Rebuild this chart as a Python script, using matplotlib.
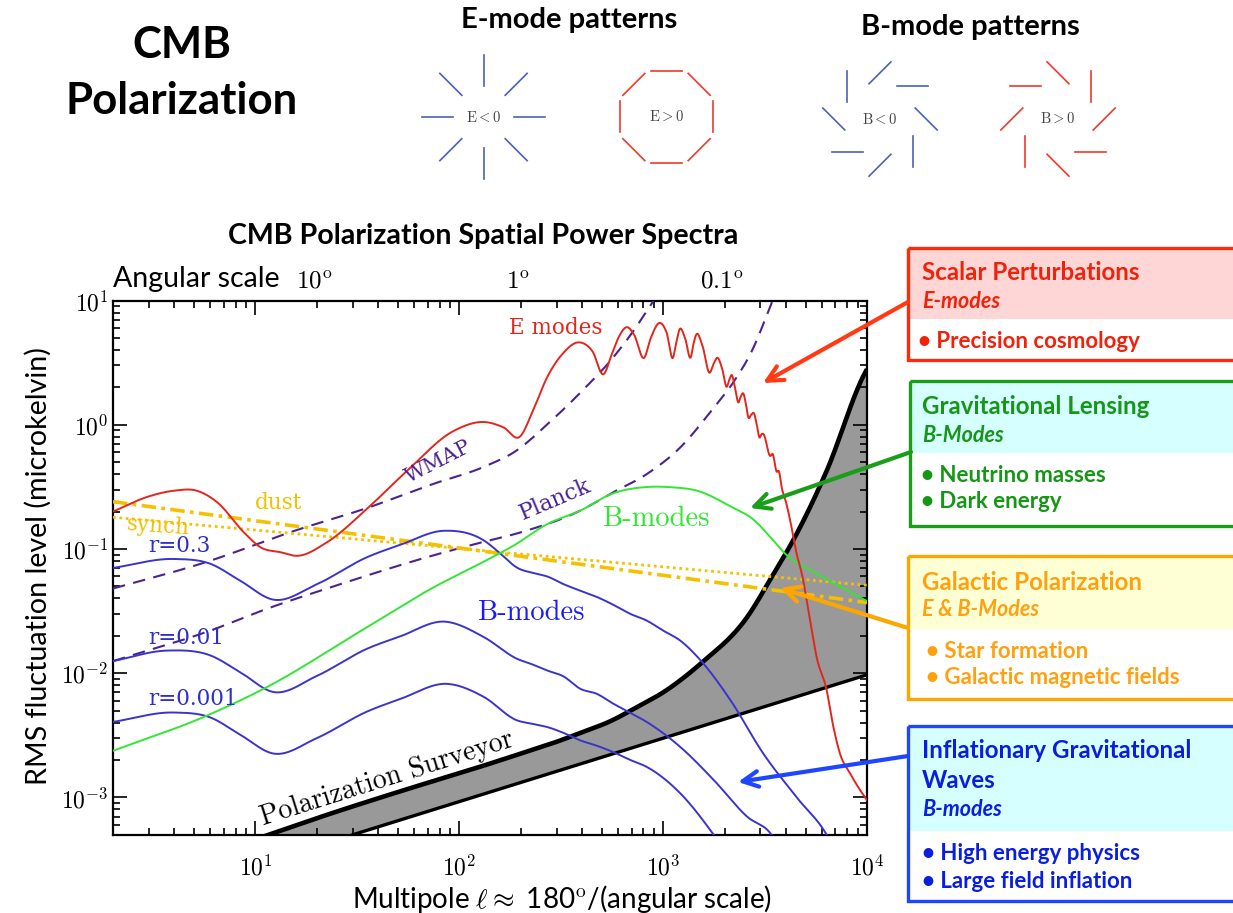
import numpy as np
import matplotlib
matplotlib.use('Agg')
import matplotlib.pyplot as plt
from matplotlib.patches import Rectangle
from matplotlib.ticker import LogLocator, NullFormatter

plt.rcParams['mathtext.fontset'] = 'cm'
plt.rcParams['font.family'] = ['Lato', 'DejaVu Sans']

# ---------------- data ----------------
ell_E = [2, 3, 3.97, 5.16, 6.5, 8.77, 10.6, 13.3, 16, 22.4, 35.2, 55.4, 93.7, 134, 165, 198,
         230, 269, 320, 389, 450, 510, 560, 610, 663, 720, 807, 870, 967, 1040, 1117, 1160,
         1203, 1280, 1367, 1410, 1452, 1560, 1688, 1770, 1847, 1950, 2051, 2110, 2172, 2250,
         2339, 2400, 2476, 2550, 2620, 2700, 2793, 2880, 2966, 3040, 3105, 3350, 3450, 3600,
         3700, 3820, 4000, 4200, 4520, 4790, 5260, 5660, 6340, 6840, 7370, 8260, 9780, 10000]
E_modes = [0.20, 0.265, 0.294, 0.294, 0.237, 0.136, 0.103, 0.094, 0.088, 0.113, 0.21, 0.425,
           0.89, 1.05, 0.95, 0.80, 1.3, 2.39, 3.7, 4.6, 3.9, 2.55, 3.7, 5.2, 6.1, 5.3, 3.46,
           5.0, 6.6, 5.5, 3.46, 4.6, 5.85, 5.0, 3.5, 4.5, 5.3, 4.3, 2.62, 3.1, 3.46, 2.8, 2.02,
           2.3, 2.51, 2.0, 1.51, 1.68, 1.78, 1.45, 1.14, 1.2, 1.23, 1.0, 0.79, 0.84, 0.84, 0.56,
           0.58, 0.42, 0.42, 0.31, 0.24, 0.169, 0.091, 0.063, 0.0265, 0.0135, 0.0073, 0.0037,
           0.00225, 0.00156, 0.001, 0.00095]

ell_wmap = [2, 5.4, 16.6, 33.9, 75, 132, 191, 269, 391, 567, 713, 830, 920]
wmap = [0.048, 0.076, 0.145, 0.209, 0.335, 0.458, 0.62, 1.0, 1.8, 3.46, 5.66, 8.2, 10.6]

ell_planck = [2, 6, 11.4, 24.2, 75, 126, 200, 391, 567, 830, 1212, 1770, 2232, 2770, 3234, 3600]
planck = [0.0125, 0.022, 0.033, 0.050, 0.089, 0.112, 0.136, 0.203, 0.285, 0.40, 0.655, 1.37,
          2.25, 4.16, 7.7, 12.0]

ell_lens = [2, 5.58, 11, 35.2, 75, 126, 184, 269, 391, 567, 830, 1120, 1460, 2140, 2800, 3350,
            4010, 5420, 10000]
lens_B = [0.00237, 0.00444, 0.0075, 0.0234, 0.0492, 0.076, 0.106, 0.158, 0.203, 0.28, 0.315,
          0.313, 0.295, 0.22, 0.17, 0.125, 0.09, 0.066, 0.038]

ell_r03 = [2, 3.97, 6, 8.4, 12.3, 20, 35.2, 51.4, 84, 132, 160, 191, 230, 270, 325, 380, 474,
           560, 690, 830, 1000, 1212, 1525, 2140, 3100, 4520, 6340, 7000]
B_r03 = [0.0703, 0.083, 0.076, 0.0556, 0.039, 0.052, 0.0857, 0.108, 0.14, 0.117, 0.091, 0.071,
         0.064, 0.060, 0.052, 0.047, 0.041, 0.036, 0.030, 0.0265, 0.022, 0.0183, 0.0127,
         0.00605, 0.00225, 0.001, 0.0005, 0.00037]

ell_r001 = [2, 3.7, 6, 8.4, 12.3, 20, 35.2, 51.4, 84, 132, 191, 230, 270, 325, 391, 474, 567,
            690, 830, 1212, 1770, 2580, 3400, 3700]
B_r001 = [0.0125, 0.0152, 0.0139, 0.0102, 0.00704, 0.0095, 0.0157, 0.0198, 0.026, 0.0195,
          0.0131, 0.0117, 0.0105, 0.0094, 0.0075, 0.0068, 0.0057, 0.0048, 0.00405, 0.00255,
          0.00138, 0.0007, 0.0005, 0.0004]

ell_r0001 = [2, 3.97, 6, 8.4, 12.3, 20, 35.2, 51.4, 87, 132, 191, 230, 269, 325, 391, 474, 567,
             690, 830, 1212, 1770, 1950]
B_r0001 = [0.00405, 0.00482, 0.0044, 0.0032, 0.00225, 0.003, 0.0049, 0.0062, 0.0082, 0.00643,
           0.00418, 0.0039, 0.00369, 0.0033, 0.00288, 0.0026, 0.00232, 0.002, 0.00176, 0.00108,
           0.0005, 0.0004]

ell_dust = [2, 10000]
dust = [0.24, 0.037]
ell_synch = [2, 10000]
synch = [0.18, 0.051]

ell_surv = [10, 20, 51.4, 126, 200, 300, 391, 550, 740, 1000, 1525, 2580, 3480, 4340, 6340,
            9780, 10000]
surv_upper = [4.6e-4, 6.8e-4, 0.00112, 0.00176, 0.00225, 0.0028, 0.0033, 0.0041, 0.0053,
              0.0070, 0.0119, 0.0282, 0.063, 0.117, 0.425, 2.62, 2.8]
ell_surv_low = [30, 10000]
surv_lower = [5e-4, 0.0097]

xtick_vals = [10, 100, 1000, 10000]
xtick_labels = [r'$10^1$', r'$10^2$', r'$10^3$', r'$10^4$']
ytick_vals = [1e-3, 1e-2, 1e-1, 1, 10]
ytick_labels = [r'$10^{-3}$', r'$10^{-2}$', r'$10^{-1}$', r'$10^0$', r'$10^1$']
angle_ell = [18, 180, 1800]
angle_labels = [r'$10^{\rm o}$', r'$1^{\rm o}$', r'$0.1^{\rm o}$']

pattern_angles = [0, 45, 90, 135, 180, 225, 270, 315]


def smooth(xs, ys, n=1500):
    lx = np.log10(np.asarray(xs, float))
    ly = np.log10(np.asarray(ys, float))
    if len(lx) < 3:
        xx = np.linspace(lx[0], lx[-1], n)
        return 10 ** xx, 10 ** np.interp(xx, lx, ly)
    m = np.gradient(ly, lx)
    xx = np.linspace(lx[0], lx[-1], n)
    idx = np.clip(np.searchsorted(lx, xx, side='right') - 1, 0, len(lx) - 2)
    h = lx[idx + 1] - lx[idx]
    t = (xx - lx[idx]) / h
    h00 = 2 * t**3 - 3 * t**2 + 1
    h10 = t**3 - 2 * t**2 + t
    h01 = -2 * t**3 + 3 * t**2
    h11 = t**3 - t**2
    yy = h00 * ly[idx] + h10 * h * m[idx] + h01 * ly[idx + 1] + h11 * h * m[idx + 1]
    return 10 ** xx, 10 ** yy


W, H = 1233, 913
fig = plt.figure(figsize=(W / 100, H / 100), dpi=100)

# ---------------- main plot ----------------
ax = fig.add_axes([113 / W, 1 - 835 / H, (867 - 113) / W, (835 - 300.5) / H])
ax.set_xscale('log')
ax.set_yscale('log')
ax.set_xlim(2, 1e4)
ax.set_ylim(10 ** -3.303, 10)

# surveyor band
gx, gu = smooth(ell_surv, surv_upper, 800)
gl = np.where(gx >= ell_surv_low[0],
              10 ** np.interp(np.log10(gx), np.log10(ell_surv_low), np.log10(surv_lower)), 1e-5)
ax.fill_between(gx, gl, gu, where=gu > gl, color='#999999', lw=0, zorder=1)
ax.plot(gx, gu, color='black', lw=3.3, zorder=2, solid_capstyle='butt')
ax.plot(ell_surv_low, surv_lower, color='black', lw=2.4, zorder=2)

purple = '#4b2391'
x, y = smooth(ell_wmap, wmap)
ax.plot(x, y, color=purple, lw=1.5, dashes=(6, 4), zorder=3)
x, y = smooth(ell_planck, planck)
ax.plot(x, y, color=purple, lw=1.5, dashes=(6, 4), zorder=3)

gold = '#f5c000'
ax.plot(ell_dust, dust, color=gold, lw=2.6, dashes=(4, 1.5, 1, 1.5), zorder=3)
ax.plot(ell_synch, synch, color=gold, lw=2.0, dashes=(1, 1.3), zorder=3)

blue_line = '#3b34cc'
for e, b in [(ell_r03, B_r03), (ell_r001, B_r001), (ell_r0001, B_r0001)]:
    x, y = smooth(e, b)
    ax.plot(x, y, color=blue_line, lw=1.4, zorder=4)

x, y = smooth(ell_lens, lens_B)
ax.plot(x, y, color='#33e633', lw=1.4, zorder=4)

x, y = smooth(ell_E, E_modes, 4000)
ax.plot(x, y, color='#e3261c', lw=1.4, zorder=5)

ax.set_xticks(xtick_vals)
ax.set_xticklabels(xtick_labels, fontsize=17)
ax.set_yticks(ytick_vals)
ax.set_yticklabels(ytick_labels, fontsize=17)
ax.xaxis.set_minor_locator(LogLocator(base=10, subs=np.arange(2, 10)))
ax.yaxis.set_minor_locator(LogLocator(base=10, subs=np.arange(2, 10)))
ax.xaxis.set_minor_formatter(NullFormatter())
ax.yaxis.set_minor_formatter(NullFormatter())
ax.tick_params(which='both', direction='in', top=True, right=True, width=1.2)
ax.tick_params(which='major', length=10)
ax.tick_params(which='minor', length=5)
ax.tick_params(axis='x', pad=14)
ax.tick_params(axis='y', pad=3.5)
for s in ax.spines.values():
    s.set_linewidth(1.6)

# ---------------- overlay (pixel coordinates) ----------------
ov = fig.add_axes([0, 0, 1, 1], zorder=10)
ov.set_xlim(0, W)
ov.set_ylim(H, 0)
ov.axis('off')

# titles
ov.text(182, 45, 'CMB', fontsize=31.5, fontweight='bold', ha='center', va='center')
ov.text(182, 101, 'Polarization', fontsize=31.5, fontweight='bold', ha='center', va='center')
ov.text(569, 20, 'E-mode patterns', fontsize=21, fontweight='bold', ha='center', va='center')
ov.text(970, 27, 'B-mode patterns', fontsize=21, fontweight='bold', ha='center', va='center')
ov.text(483, 236, 'CMB Polarization Spatial Power Spectra', fontsize=20.6, fontweight='bold',
        ha='center', va='center')
ov.text(113, 279, 'Angular scale', fontsize=20.5, ha='left', va='center')
for e, lab in zip(angle_ell, angle_labels):
    px = 255 + 204 * (np.log10(e) - 1) + 7
    ov.text(px, 281, lab, fontsize=18, ha='center', va='center')
ov.text(38, 566, 'RMS fluctuation level (microkelvin)', fontsize=20.6, rotation=90,
        ha='center', va='center')
ov.text(562, 899, r'Multipole $\ell \approx$ 180$^{\rm o}$/(angular scale)', fontsize=20,
        ha='center', va='center')

# polarization patterns
blue_p = '#4a62b4'
red_p = '#ee3a2b'
R, HL = 46.2, 15.5
for (cx, cy, off, col, lab) in [(483.5, 117, 0, blue_p, r'$\mathrm{E} < 0$'),
                                (666.5, 117, 90, red_p, r'$\mathrm{E} > 0$'),
                                (880, 119, -45, blue_p, r'$\mathrm{B} < 0$'),
                                (1058, 119, 45, red_p, r'$\mathrm{B} > 0$')]:
    for th in pattern_angles:
        t = np.radians(th)
        mx, my = cx + R * np.cos(t), cy - R * np.sin(t)
        p = np.radians(th + off)
        dx, dy = HL * np.cos(p), -HL * np.sin(p)
        ov.plot([mx - dx, mx + dx], [my - dy, my + dy], color=col, lw=1.2)
    ov.text(cx, cy, lab, fontsize=10.5, color='#444444', ha='center', va='center')

# curve labels
serif = 'DejaVu Serif'
ov.text(556, 328, 'E modes', fontsize=15.5, family=serif, color='#e3261c', ha='center', va='center')
ov.text(438, 462, 'WMAP', fontsize=15, family=serif, color=purple, rotation=27, ha='center', va='center')
ov.text(555, 500, 'Planck', fontsize=16, family=serif, color=purple, rotation=23, ha='center', va='center')
ov.text(279, 503, 'dust', fontsize=15.5, family=serif, color=gold, ha='center', va='center')
ov.text(158, 526, 'synch', fontsize=15.5, family=serif, color=gold, rotation=-4, ha='center', va='center')
ov.text(148, 546, 'r=0.3', fontsize=15.5, family=serif, color='#2e2ecc', ha='left', va='center')
ov.text(148, 638, 'r=0.01', fontsize=15.5, family=serif, color='#2e2ecc', ha='left', va='center')
ov.text(148, 699, 'r=0.001', fontsize=15.5, family=serif, color='#2e2ecc', ha='left', va='center')
ov.text(656, 519, 'B-modes', fontsize=20.5, family='cmr10', color='#33e633', ha='center', va='center')
ov.text(531, 613, 'B-modes', fontsize=20.5, family='cmr10', color='#1a1aff', ha='center', va='center')
ov.text(387, 779, 'Polarization Surveyor', fontsize=20, family='cmr10', color='black',
        rotation=17.5, ha='center', va='center')

# boxes
boxes = [
    dict(top=248, hdr=319, bot=360, left=908, fill='#ffd6d6', edge='#ff2a0a', txt='#f0220a', bx=918,
         lines=[('Scalar Perturbations', 272, 'h'), ('E-modes', 301, 'i'),
                ('\u2022 Precision cosmology', 341, 'b')]),
    dict(top=381, hdr=453, bot=526, left=910, fill='#d6ffff', edge='#1a9e1a', txt='#169616', bx=921,
         lines=[('Gravitational Lensing', 406, 'h'), ('B-Modes', 435, 'i'),
                ('\u2022 Neutrino masses', 475, 'b'), ('\u2022 Dark energy', 502, 'b')]),
    dict(top=556, hdr=629, bot=699, left=908, fill='#ffffd6', edge='#ffa500', txt='#ffa010', bx=926,
         lines=[('Galactic Polarization', 582, 'h'), ('E & B-Modes', 609, 'i'),
                ('\u2022 Star formation', 651, 'b'), ('\u2022 Galactic magnetic fields', 677, 'b')]),
    dict(top=726, hdr=831, bot=901, left=908, fill='#d6ffff', edge='#1e46ff', txt='#0a1ee0', bx=922,
         lines=[('Inflationary Gravitational', 751, 'h'), ('Waves', 781, 'h'),
                ('B-modes', 809, 'i'),
                ('\u2022 High energy physics', 854, 'b'), ('\u2022 Large field inflation', 881, 'b')]),
]
for b in boxes:
    ov.add_patch(Rectangle((b['left'], b['top']), 340, b['hdr'] - b['top'], facecolor=b['fill'],
                           edgecolor='none', zorder=1))
    ov.add_patch(Rectangle((b['left'], b['top']), 340, b['bot'] - b['top'], facecolor='none',
                           edgecolor=b['edge'], lw=2.4, zorder=2))
    for (s, yy, kind) in b['lines']:
        if kind == 'h':
            ov.text(922, yy, s, fontsize=17.4, fontweight='bold', color=b['txt'],
                    ha='left', va='center', zorder=3)
        elif kind == 'i':
            ov.text(922, yy, s, fontsize=15.5, fontweight='bold', style='italic', color=b['txt'],
                    ha='left', va='center', zorder=3)
        else:
            ov.text(b['bx'], yy, s, fontsize=16, fontweight='bold', color=b['txt'],
                    ha='left', va='center', zorder=3)

# arrows
for (x0, y0, x1, y1, col) in [(908, 302, 763, 383, '#ff3a14'), (911, 452, 750, 508, '#1a9e1a'),
                              (908, 628, 780, 588, '#ffa500'), (908, 756, 738, 782, '#1e46ff')]:
    ov.annotate('', xy=(x1, y1), xytext=(x0, y0),
                arrowprops=dict(arrowstyle='->', color=col, lw=3.0, mutation_scale=28,
                                shrinkA=0, shrinkB=0))

fig.savefig('out.png', dpi=100)
